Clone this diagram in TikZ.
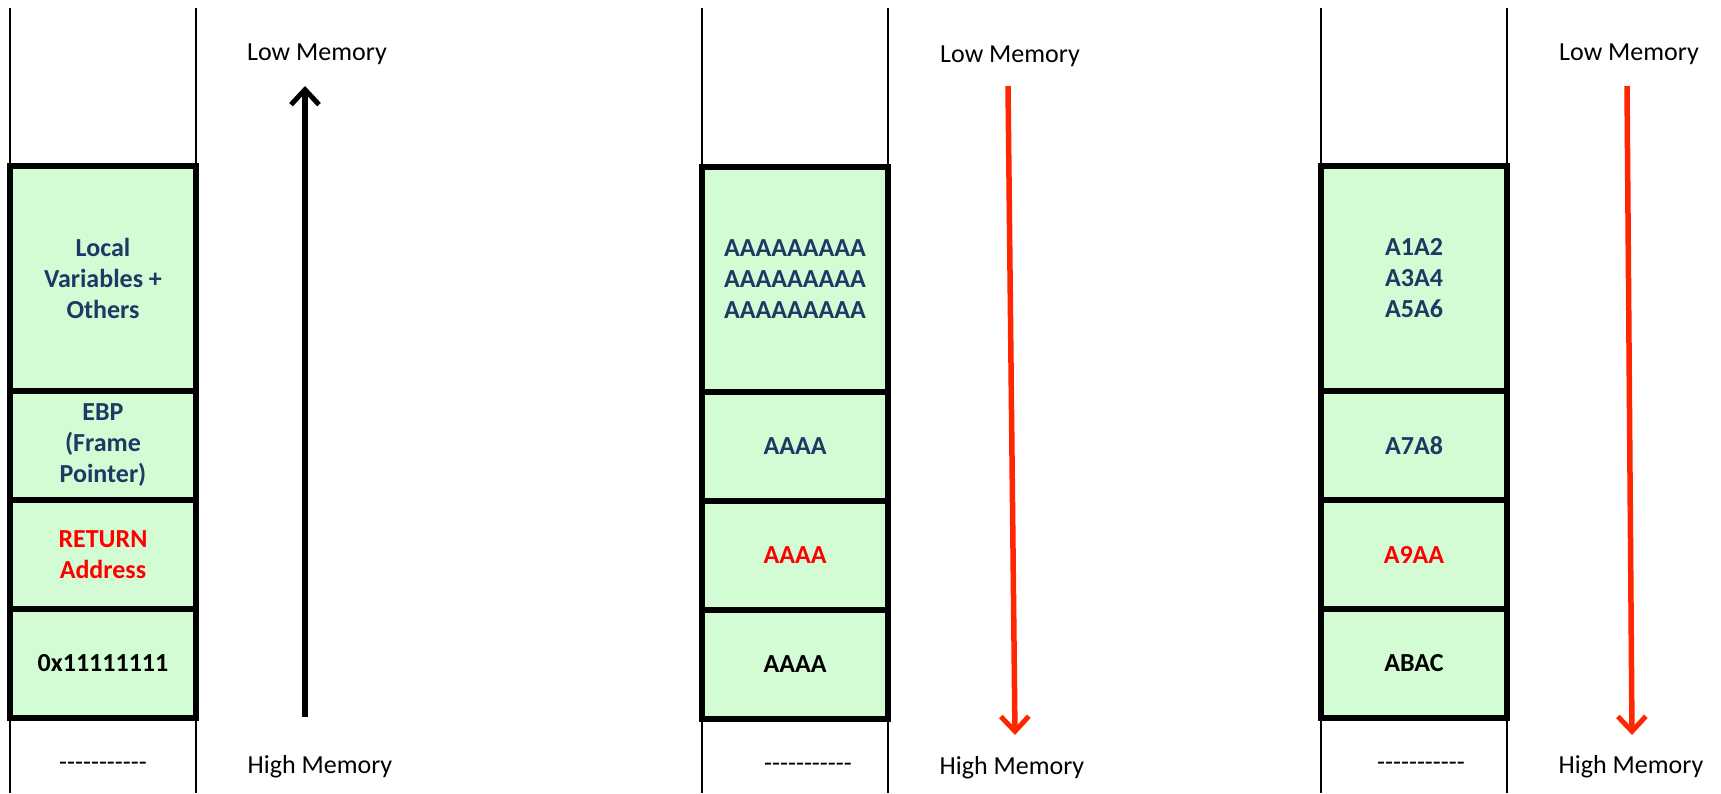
\documentclass[tikz,border=0pt]{standalone}
\usepackage{fontspec}
\setmainfont{Carlito}
\usetikzlibrary{arrows.meta}
\definecolor{cellgreen}{RGB}{212,252,212}
\definecolor{navy}{RGB}{31,56,100}
\definecolor{arrred}{RGB}{255,38,0}
\tikzset{
  cell/.style={draw=black, line width=5.5pt, fill=cellgreen, minimum width=186pt, inner sep=0pt,
    align=center, font=\fontsize{26}{31}\selectfont\bfseries, text=navy},
  lbl/.style={font=\fontsize{26}{31}\selectfont, text=black, inner sep=0pt},
  wall/.style={line width=1.5pt, black},
  memarrow/.style={line width=5.5pt, -{Straight Barb[length=15pt,width=28pt,line width=5pt]}},
}
\begin{document}
\begin{tikzpicture}[x=1pt,y=-1pt]
\useasboundingbox (0,0) rectangle (1721,793);
% walls
\foreach \xa in {10,196,702,888,1321,1507}{
  \draw[wall] (\xa,8) -- (\xa,793);
}
% panel 1
\node[cell, minimum height=225pt] (a1) at (103,278.5) {Local\\Variables +\\Others};
\node[cell, minimum height=109pt] (a2) at (103,445.5) {EBP\\(Frame\\Pointer)};
\node[cell, minimum height=109pt, text=red] (a3) at (103,554.5) {RETURN\\Address};
\node[cell, minimum height=109pt, text=black] (a4) at (103,663.5) {0x11111111};
\node[lbl] (d1) at (103,766) {{-}{-}{-}{-}{-}{-}{-}{-}{-}{-}{-}};
\node[lbl] (lo1) at (317,54) {Low Memory};
\node[lbl] (hi1) at (320,767) {High Memory};
\coordinate (s1) at (305,717);
\coordinate (e1) at (305,86);
\draw[memarrow, black] (s1) -- (e1);
% panel 2
\node[cell, minimum height=225pt] (b1) at (795,279.5) {AAAAAAAAA\\AAAAAAAAA\\AAAAAAAAA};
\node[cell, minimum height=109pt] (b2) at (795,446.5) {AAAA};
\node[cell, minimum height=109pt, text=red] (b3) at (795,555.5) {AAAA};
\node[cell, minimum height=109pt, text=black] (b4) at (795,664.5) {AAAA};
\node[lbl] (d2) at (808,767) {{-}{-}{-}{-}{-}{-}{-}{-}{-}{-}{-}};
\node[lbl] (lo2) at (1010,56) {Low Memory};
\node[lbl] (hi2) at (1012,768) {High Memory};
\coordinate (s2) at (1008,86);
\coordinate (e2) at (1015,735);
\draw[memarrow, arrred] (s2) -- (e2);
% panel 3
\node[cell, minimum height=225pt] (c1) at (1414,278.5) {A1A2\\A3A4\\A5A6};
\node[cell, minimum height=109pt] (c2) at (1414,445.5) {A7A8};
\node[cell, minimum height=109pt, text=red] (c3) at (1414,554.5) {A9AA};
\node[cell, minimum height=109pt, text=black] (c4) at (1414,663.5) {ABAC};
\node[lbl] (d3) at (1421,766) {{-}{-}{-}{-}{-}{-}{-}{-}{-}{-}{-}};
\node[lbl] (lo3) at (1629,54) {Low Memory};
\node[lbl] (hi3) at (1631,767) {High Memory};
\coordinate (s3) at (1627,86);
\coordinate (e3) at (1632,735);
\draw[memarrow, arrred] (s3) -- (e3);
\end{tikzpicture}
\end{document}
